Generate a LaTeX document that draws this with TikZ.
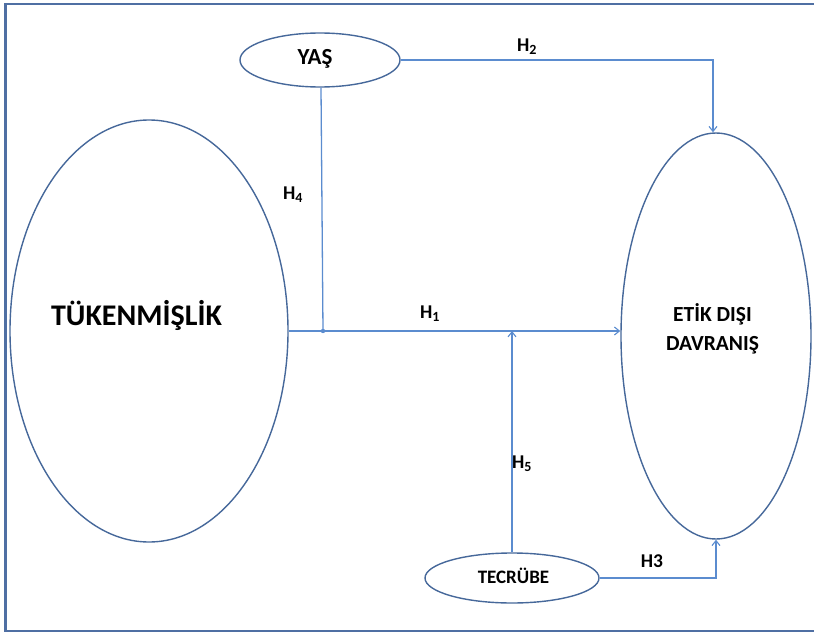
\documentclass[tikz,border=0pt]{standalone}
\usepackage{fontspec}
\setmainfont{Carlito}
\usetikzlibrary{shapes.geometric,arrows.meta}
\definecolor{edgeblue}{HTML}{46689A}
\definecolor{linkblue}{HTML}{5B8CCF}
\definecolor{frameblue}{HTML}{4F6FA3}
\tikzset{
  oval/.style={ellipse, draw=edgeblue, line width=1.4pt, inner sep=0pt},
  otext/.style={font=\bfseries, text=black, inner sep=0pt},
  link/.style={draw=linkblue, line width=1.3pt},
  tip/.style={-{Straight Barb[length=5pt,width=8pt,line width=1.1pt]}},
  hlab/.style={font=\fontsize{19.5}{22}\selectfont\bfseries, text=black, inner sep=0pt}
}
\newcommand{\hsub}[1]{H\textsubscript{\fontsize{14}{15}\selectfont #1}}
\begin{document}
\begin{tikzpicture}[x=1pt,y=-1pt]
\useasboundingbox (0,0) rectangle (814,634);
\draw[frameblue, line width=2.6pt] (818,4) -- (5.5,4) -- (5.5,631) -- (818,631);

\node[oval, minimum width=278pt, minimum height=422pt] (tuk) at (149,331) {};
\node[otext, font=\fontsize{30}{34}\selectfont\bfseries] (tukt) at (136.5,315) {TÜKENMİŞLİK};
\node[oval, minimum width=160pt, minimum height=54pt] (yas) at (320,60) {};
\node[otext, font=\fontsize{23}{26}\selectfont\bfseries] (yast) at (315,59) {YAŞ};
\node[oval, minimum width=190pt, minimum height=406pt] (etik) at (716,336) {};
\node[otext, align=center, font=\fontsize{21.5}{29}\selectfont\bfseries] (etikt) at (712.5,329) {ETİK DIŞI\\DAVRANIŞ};
\node[oval, minimum width=174pt, minimum height=50pt] (tec) at (512,578) {};
\node[otext, font=\fontsize{19}{22}\selectfont\bfseries] (tect) at (513.5,576) {TECRÜBE};

\coordinate (jn) at ([xshift=3pt]yas.south |- tuk.east);
% H1
\draw[link, tip] (tuk.east) -- (tuk.east -| etik.west);
% H4
\draw[link] ([xshift=1pt]yas.south) -- (jn);
\fill[linkblue] (jn) circle (2.2pt);
% H2
\draw[link, tip] (yas.east) -| ([xshift=-3pt]etik.north);
% H5
\draw[link, tip] (tec.north) -- (tec.north |- tuk.east);
% H3
\draw[link, tip] (tec.east) -| (etik.south);

\node[hlab] (h1) at (430,314) {\hsub{1}};
\node[hlab] (h2) at (527,47) {\hsub{2}};
\node[hlab] (h4) at (293,195) {\hsub{4}};
\node[hlab] (h5) at (522,464) {\hsub{5}};
\node[hlab] (h3) at (652,561) {H3};
\end{tikzpicture}
\end{document}
